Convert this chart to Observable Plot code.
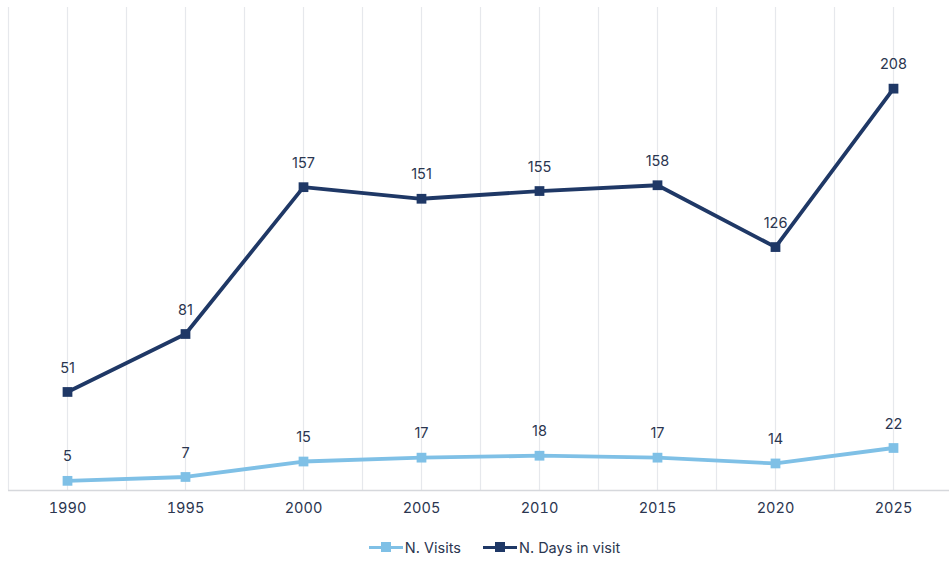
<!DOCTYPE html>
<html>
<head>
<meta charset="utf-8">
<script src="https://cdn.jsdelivr.net/npm/d3@7"></script>
<script src="https://cdn.jsdelivr.net/npm/@observablehq/plot@0.6"></script>
<style>
  html, body { margin: 0; padding: 0; background: #fff; }
  body { width: 949px; height: 561px; overflow: hidden; font-family: "Inter", "Roboto", sans-serif; }
  #legend { display: flex; justify-content: center; align-items: center; gap: 22px; height: 34px; font-size: 14.5px; color: #2b3650; padding-left: 40px; padding-top: 3px; }
  .item { display: flex; align-items: center; }
  .sw { position: relative; width: 34px; height: 12px; margin-right: 2px; }
  .sw .ln { position: absolute; left: 0; right: 0; top: 4.5px; height: 3px; }
  .sw .mk { position: absolute; left: 12px; top: 1px; width: 10px; height: 10px; }
</style>
</head>
<body>
<div id="chart"></div>
<div id="legend"></div>
<script>
const years = [1990, 1995, 2000, 2005, 2010, 2015, 2020, 2025];
const visits = [5, 7, 15, 17, 18, 17, 14, 22];
const daysInVisit = [51, 81, 157, 151, 155, 158, 126, 208];
const seriesNames = ["N. Visits", "N. Days in visit"];
const seriesColors = ["#7fc0e6", "#1f3866"];

const rows = [];
years.forEach((y, i) => {
  rows.push({year: y, value: visits[i], series: seriesNames[0]});
  rows.push({year: y, value: daysInVisit[i], series: seriesNames[1]});
});

const gridPositions = d3.range(years[0] - 2.5, years[years.length - 1] + 5, 2.5);
const textColor = "#2b3650";

const chart = Plot.plot({
  width: 949,
  height: 527,
  marginTop: 7,
  marginBottom: 37,
  marginLeft: 8,
  marginRight: 0,
  style: { fontFamily: "Inter, Roboto, sans-serif", fontSize: "14.5px", color: textColor, background: "#fff" },
  x: { domain: [1987.5, 2027.5], range: [8, 952], axis: null },
  y: { domain: [0, 250], axis: null },
  color: { domain: seriesNames, range: seriesColors },
  marks: [
    Plot.ruleX(gridPositions, { x: d => d, stroke: "#e6e8ec", strokeWidth: 1.2 }),
    Plot.ruleY([0], { stroke: "#d6d8dc", strokeWidth: 1.5 }),
    Plot.axisX(years, { x: d => d, label: null, tickSize: 0, tickPadding: 12, fontSize: 14.5, fill: textColor, tickFormat: d => String(d) }),
    Plot.line(rows, { x: "year", y: "value", z: "series", stroke: "series", strokeWidth: 3.8, strokeLinejoin: "miter" }),
    Plot.dot(rows, { x: "year", y: "value", fill: "series", symbol: "square", r: 5.5 }),
    Plot.text(rows, { x: "year", y: "value", text: d => String(d.value), dy: -24, fontSize: 14.5, fill: textColor })
  ]
});
document.getElementById("chart").appendChild(chart);

const legend = document.getElementById("legend");
seriesNames.forEach((name, i) => {
  const item = document.createElement("div");
  item.className = "item";
  item.innerHTML = `<span class="sw"><span class="ln" style="background:${seriesColors[i]}"></span><span class="mk" style="background:${seriesColors[i]}"></span></span><span>${name}</span>`;
  legend.appendChild(item);
});
</script>
</body>
</html>
